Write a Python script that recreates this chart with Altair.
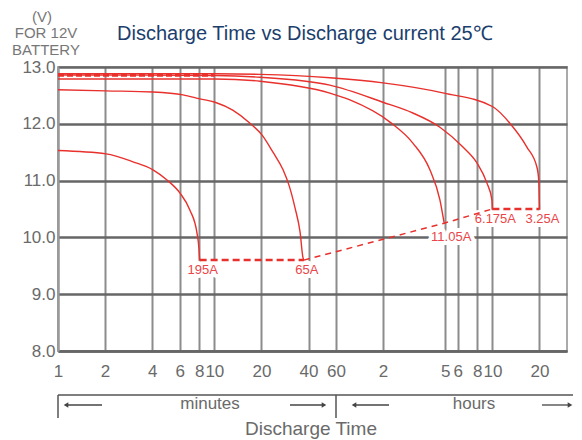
import altair as alt
import pandas as pd

# ---- data (time in minutes, voltage in volts) ----
t_195 = [1, 2.03, 3.02, 4.05, 4.98, 6.03, 6.98, 7.74, 7.97, 8.05]
v_195 = [11.53, 11.47, 11.33, 11.19, 11.01, 10.78, 10.48, 10.08, 9.8, 9.6]

t_65 = [1, 2.03, 4.05, 6.3, 8.09, 10.1, 13.1, 16.9, 20.2, 23.7, 27.5, 30.0, 32.8, 35.3, 36.9, 37.4]
v_65 = [12.6, 12.58, 12.56, 12.51, 12.44, 12.38, 12.24, 12.01, 11.80, 11.50, 11.19, 10.92, 10.52, 10.10, 9.64, 9.6]

t_11 = [1, 10.1, 19.6, 54.8, 73.6, 132.7, 186, 239, 277, 295]
v_11 = [12.79, 12.79, 12.75, 12.54, 12.42, 12.03, 11.66, 11.19, 10.66, 10.25]

t_6 = [1, 10.1, 19.6, 54.8, 119.7, 186, 277, 389, 478, 553, 596, 600]
v_6 = [12.86, 12.85, 12.82, 12.68, 12.38, 12.19, 11.94, 11.59, 11.31, 10.96, 10.66, 10.5]

t_3 = [1, 10.1, 19.6, 54.8, 120, 294, 604, 776, 997, 1155, 1187, 1200]
v_3 = [12.88, 12.88, 12.87, 12.81, 12.72, 12.54, 12.30, 12.01, 11.59, 11.24, 11.01, 10.5]

curve_names = ["195A", "65A", "11.05A", "6.175A", "3.25A"]
end_t = [8.05, 37.4, 295, 600, 1200]
end_v = [9.6, 9.6, 10.25, 10.5, 10.5]

top_dash_t = [1, 10]
top_dash_v = [12.86, 12.86]

x_ticks = [1, 2, 4, 6, 8, 10, 20, 40, 60, 120, 300, 360, 480, 600, 1200]
y_ticks = [8, 9, 10, 11, 12, 13]

# ---- tables ----
series = [(t_195, v_195), (t_65, v_65), (t_11, v_11), (t_6, v_6), (t_3, v_3)]
rows = []
for name, (ts, vs) in zip(curve_names, series):
    for i, (t, v) in enumerate(zip(ts, vs)):
        rows.append({"curve": name, "t": t, "v": v, "i": i})
curves_df = pd.DataFrame(rows)

ends_df = pd.DataFrame({"t": end_t, "v": end_v, "text": curve_names})
top_df = pd.DataFrame({"t": top_dash_t, "v": top_dash_v})
seg_thick1 = ends_df.iloc[0:2]
seg_thin = ends_df.iloc[1:4]
seg_thick2 = ends_df.iloc[3:5]

FONT = "Liberation Sans"
RED = "#e8302c"
GRAY = "#6a6a6a"

x_enc = alt.X(
    "t:Q",
    scale=alt.Scale(type="log", domain=[1, 1800], nice=False),
    axis=alt.Axis(
        values=x_ticks,
        labelExpr="datum.value >= 120 ? format(datum.value / 60, 'd') : format(datum.value, 'd')",
        title=None, grid=True, gridColor="#8c8c8c", gridWidth=2,
        ticks=False, domainColor="#666666", domainWidth=2.5,
        labelFontSize=17, labelColor=GRAY, labelPadding=12,
        labelOverlap=False, labelFlush=False, labelFont=FONT,
    ),
)
y_enc = alt.Y(
    "v:Q",
    scale=alt.Scale(domain=[8, 13], nice=False, zero=False),
    axis=alt.Axis(
        values=y_ticks, format=".1f", title=None, grid=True,
        gridColor="#666666", gridWidth=2.5, ticks=False,
        domainColor="#9a9a9a", domainWidth=2,
        labelFontSize=17, labelColor=GRAY, labelPadding=3, labelFont=FONT,
    ),
)

halo_main = alt.Chart(ends_df).transform_filter("datum.text != '11.05A'").mark_text(
    font=FONT, fontSize=13, dx=3, dy=9.5, color="white", stroke="white",
    strokeWidth=8, strokeJoin="round"
).encode(x=x_enc, y=y_enc, text="text:N")
halo_11 = alt.Chart(ends_df).transform_filter("datum.text == '11.05A'").mark_text(
    font=FONT, fontSize=13, dx=7, dy=14, color="white", stroke="white",
    strokeWidth=8, strokeJoin="round"
).encode(x=x_enc, y=y_enc, text="text:N")

curves = alt.Chart(curves_df).mark_line(
    color=RED, strokeWidth=1.4, interpolate="monotone"
).encode(x=x_enc, y=y_enc, detail="curve:N", order="i:Q")

top_dash = alt.Chart(top_df).mark_line(
    color=RED, strokeWidth=3.5, strokeDash=[6, 3]
).encode(x=x_enc, y=y_enc)

d1 = alt.Chart(seg_thick1).mark_line(color=RED, strokeWidth=2.5, strokeDash=[7, 4]).encode(x=x_enc, y=y_enc)
d2 = alt.Chart(seg_thin).mark_line(color=RED, strokeWidth=1.5, strokeDash=[6, 5]).encode(x=x_enc, y=y_enc)
d3 = alt.Chart(seg_thick2).mark_line(color=RED, strokeWidth=2.5, strokeDash=[7, 4]).encode(x=x_enc, y=y_enc)

lab_main = alt.Chart(ends_df).transform_filter("datum.text != '11.05A'").mark_text(
    font=FONT, fontSize=13, dx=3, dy=9.5, color="#ea4549"
).encode(x=x_enc, y=y_enc, text="text:N")
lab_11 = alt.Chart(ends_df).transform_filter("datum.text == '11.05A'").mark_text(
    font=FONT, fontSize=13, dx=7, dy=14, color="#ea4549"
).encode(x=x_enc, y=y_enc, text="text:N")

# ---- decorations outside the plot area (pixel positions) ----
def txt(s, x, y, size, color, align="center"):
    return alt.Chart().mark_text(
        text=s, font=FONT, fontSize=size, color=color, align=align, baseline="middle"
    ).encode(x=alt.value(x), y=alt.value(y))

def rule(x1, x2, y1, y2, w=1.5, color="#555555"):
    return alt.Chart().mark_rule(color=color, strokeWidth=w).encode(
        x=alt.value(x1), x2=alt.value(x2), y=alt.value(y1), y2=alt.value(y2)
    )

def head(x, y, shape):
    return alt.Chart().mark_point(shape=shape, filled=True, size=28, color="#444444", opacity=1).encode(
        x=alt.value(x), y=alt.value(y)
    )

deco = [
    txt("Discharge Time vs Discharge current 25\u2103", 59, -33, 20, "#1b3e6d", "left"),
    txt("(V)", -16, -50, 15, "#777777"),
    txt("FOR 12V", -12, -34, 15, "#777777"),
    txt("BATTERY", -12, -17, 15, "#777777"),
    rule(0, 515, 328, 328),
    rule(0, 0, 328, 351),
    rule(278, 278, 328, 351),
    rule(9, 44, 338, 338, 1.3, "#444444"), head(8, 338, "triangle-left"),
    rule(232, 265, 338, 338, 1.3, "#444444"), head(266, 338, "triangle-right"),
    rule(297, 331, 338, 338, 1.3, "#444444"), head(296, 338, "triangle-left"),
    rule(484, 511, 338, 338, 1.3, "#444444"), head(512, 338, "triangle-right"),
    txt("minutes", 152, 337, 17, GRAY),
    txt("hours", 416, 337, 17, GRAY),
    txt("Discharge Time", 253, 362, 19, GRAY),
]

chart = alt.layer(
    halo_main, halo_11, curves, top_dash, d1, d2, d3, lab_main, lab_11, *deco
).properties(
    width=509, height=284,
    autosize=alt.AutoSizeParams(type="none"),
    padding={"left": 50, "top": 59, "right": 7, "bottom": 95},
    background="white",
).configure_view(stroke="#aaaaaa", strokeWidth=2)

chart.save("out.html", embed_options={"renderer": "svg", "actions": False})
